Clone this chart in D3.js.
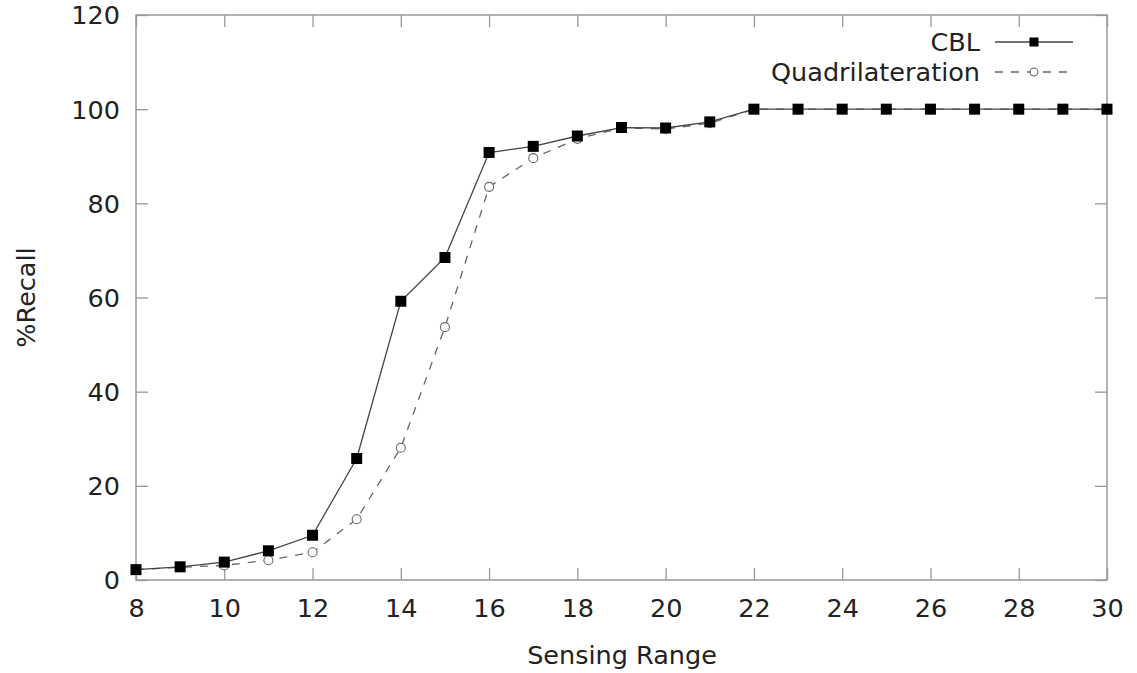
<!DOCTYPE html>
<html>
<head>
<meta charset="utf-8">
<script src="https://cdn.jsdelivr.net/npm/d3@7"></script>
<style>
  html, body { margin: 0; padding: 0; background: #fff; }
  svg text { font-family: "DejaVu Sans", sans-serif; fill: #222; }
</style>
</head>
<body>
<svg id="chart" width="1137" height="673"></svg>
<script>
// Sensing range values (x) and recall percentages for each method
const sensingRange = [8, 9, 10, 11, 12, 13, 14, 15, 16, 17, 18, 19, 20, 21, 22, 23, 24, 25, 26, 27, 28, 29, 30];
const cblRecall = [2.2, 2.8, 3.8, 6.2, 9.5, 25.8, 59.2, 68.5, 90.8, 92.1, 94.3, 96.1, 96.0, 97.3, 100, 100, 100, 100, 100, 100, 100, 100, 100];
const quadRecall = [2.2, 2.7, 3.1, 4.2, 5.9, 12.9, 28.1, 53.7, 83.5, 89.6, 93.7, 96.0, 95.8, 97.0, 100, 100, 100, 100, 100, 100, 100, 100, 100];
const xTicks = [8, 10, 12, 14, 16, 18, 20, 22, 24, 26, 28, 30];
const yTicks = [0, 20, 40, 60, 80, 100, 120];
const seriesNames = ["CBL", "Quadrilateration"];

const svg = d3.select("#chart");
const plotLeft = 136, plotRight = 1107, plotTop = 15, plotBottom = 580;
const fontSize = 25.5;
const frameColor = "#999";

const x = d3.scaleLinear().domain([8, 30]).range([plotLeft, plotRight]);
const y = d3.scaleLinear().domain([0, 120]).range([plotBottom, plotTop]);

// Frame
svg.append("rect")
  .attr("x", plotLeft).attr("y", plotTop)
  .attr("width", plotRight - plotLeft).attr("height", plotBottom - plotTop)
  .attr("fill", "none").attr("stroke", frameColor).attr("stroke-width", 1.5);

const tickLen = 12;

// Bottom axis: inward ticks and labels
const xBottom = svg.append("g").attr("transform", `translate(0,${plotBottom})`)
  .call(d3.axisBottom(x).tickValues(xTicks).tickSize(-tickLen).tickPadding(tickLen + 7).tickFormat(d3.format("d")));
// Top axis: mirrored ticks only
const xTop = svg.append("g").attr("transform", `translate(0,${plotTop})`)
  .call(d3.axisTop(x).tickValues(xTicks).tickSize(-tickLen).tickFormat(""));
// Left axis: inward ticks and labels
const yLeft = svg.append("g").attr("transform", `translate(${plotLeft},0)`)
  .call(d3.axisLeft(y).tickValues(yTicks).tickSize(-tickLen).tickPadding(tickLen + 4).tickFormat(d3.format("d")));
// Right axis: mirrored ticks only
const yRight = svg.append("g").attr("transform", `translate(${plotRight},0)`)
  .call(d3.axisRight(y).tickValues(yTicks).tickSize(-tickLen).tickFormat(""));

[xBottom, xTop, yLeft, yRight].forEach(g => {
  g.select(".domain").remove();
  g.selectAll(".tick line").attr("stroke", frameColor).attr("stroke-width", 1.3);
  g.selectAll(".tick text").attr("font-size", fontSize).attr("fill", "#222")
    .attr("font-family", "DejaVu Sans, sans-serif");
});
xBottom.selectAll(".tick text").attr("dy", "0.71em");
yLeft.selectAll(".tick text").attr("dy", "0.35em");

// Axis titles
svg.append("text")
  .attr("x", 622).attr("y", 664)
  .attr("text-anchor", "middle").attr("font-size", fontSize)
  .text("Sensing Range");
svg.append("text")
  .attr("transform", `translate(35,${(plotTop + plotBottom) / 2}) rotate(-90)`)
  .attr("text-anchor", "middle").attr("font-size", fontSize)
  .text("%Recall");

const line = d3.line().x(d => x(d[0])).y(d => y(d[1]));
const cblData = sensingRange.map((s, i) => [s, cblRecall[i]]);
const quadData = sensingRange.map((s, i) => [s, quadRecall[i]]);

// Quadrilateration: dashed grey line with open circles
svg.append("path").datum(quadData)
  .attr("d", line).attr("fill", "none")
  .attr("stroke", "#666").attr("stroke-width", 1.3)
  .attr("stroke-dasharray", "8,8");
svg.append("g").selectAll("circle").data(quadData).join("circle")
  .attr("cx", d => x(d[0])).attr("cy", d => y(d[1])).attr("r", 4.5)
  .attr("fill", "#fff").attr("stroke", "#666").attr("stroke-width", 1.1);

// CBL: solid line with filled squares
const sq = 11;
svg.append("path").datum(cblData)
  .attr("d", line).attr("fill", "none")
  .attr("stroke", "#444").attr("stroke-width", 1.3);
svg.append("g").selectAll("rect").data(cblData).join("rect")
  .attr("x", d => x(d[0]) - sq / 2).attr("y", d => y(d[1]) - sq / 2)
  .attr("width", sq).attr("height", sq).attr("fill", "#000");

// Legend
const legX = 980, legLine0 = 995, legLine1 = 1073, legMid = 1034;
const legRows = [42, 72];
svg.append("text").attr("x", legX).attr("y", legRows[0]).attr("dy", "0.35em")
  .attr("text-anchor", "end").attr("font-size", fontSize).text(seriesNames[0]);
svg.append("line").attr("x1", legLine0).attr("x2", legLine1)
  .attr("y1", legRows[0]).attr("y2", legRows[0])
  .attr("stroke", "#444").attr("stroke-width", 1.3);
svg.append("rect").attr("x", legMid - 4.5).attr("y", legRows[0] - 4.5)
  .attr("width", 9).attr("height", 9).attr("fill", "#000");

svg.append("text").attr("x", legX).attr("y", legRows[1]).attr("dy", "0.35em")
  .attr("text-anchor", "end").attr("font-size", fontSize).text(seriesNames[1]);
svg.append("line").attr("x1", legLine0).attr("x2", legLine1)
  .attr("y1", legRows[1]).attr("y2", legRows[1])
  .attr("stroke", "#666").attr("stroke-width", 1.3)
  .attr("stroke-dasharray", "8,8");
svg.append("circle").attr("cx", legMid).attr("cy", legRows[1]).attr("r", 4)
  .attr("fill", "#fff").attr("stroke", "#666").attr("stroke-width", 1.1);
</script>
</body>
</html>
